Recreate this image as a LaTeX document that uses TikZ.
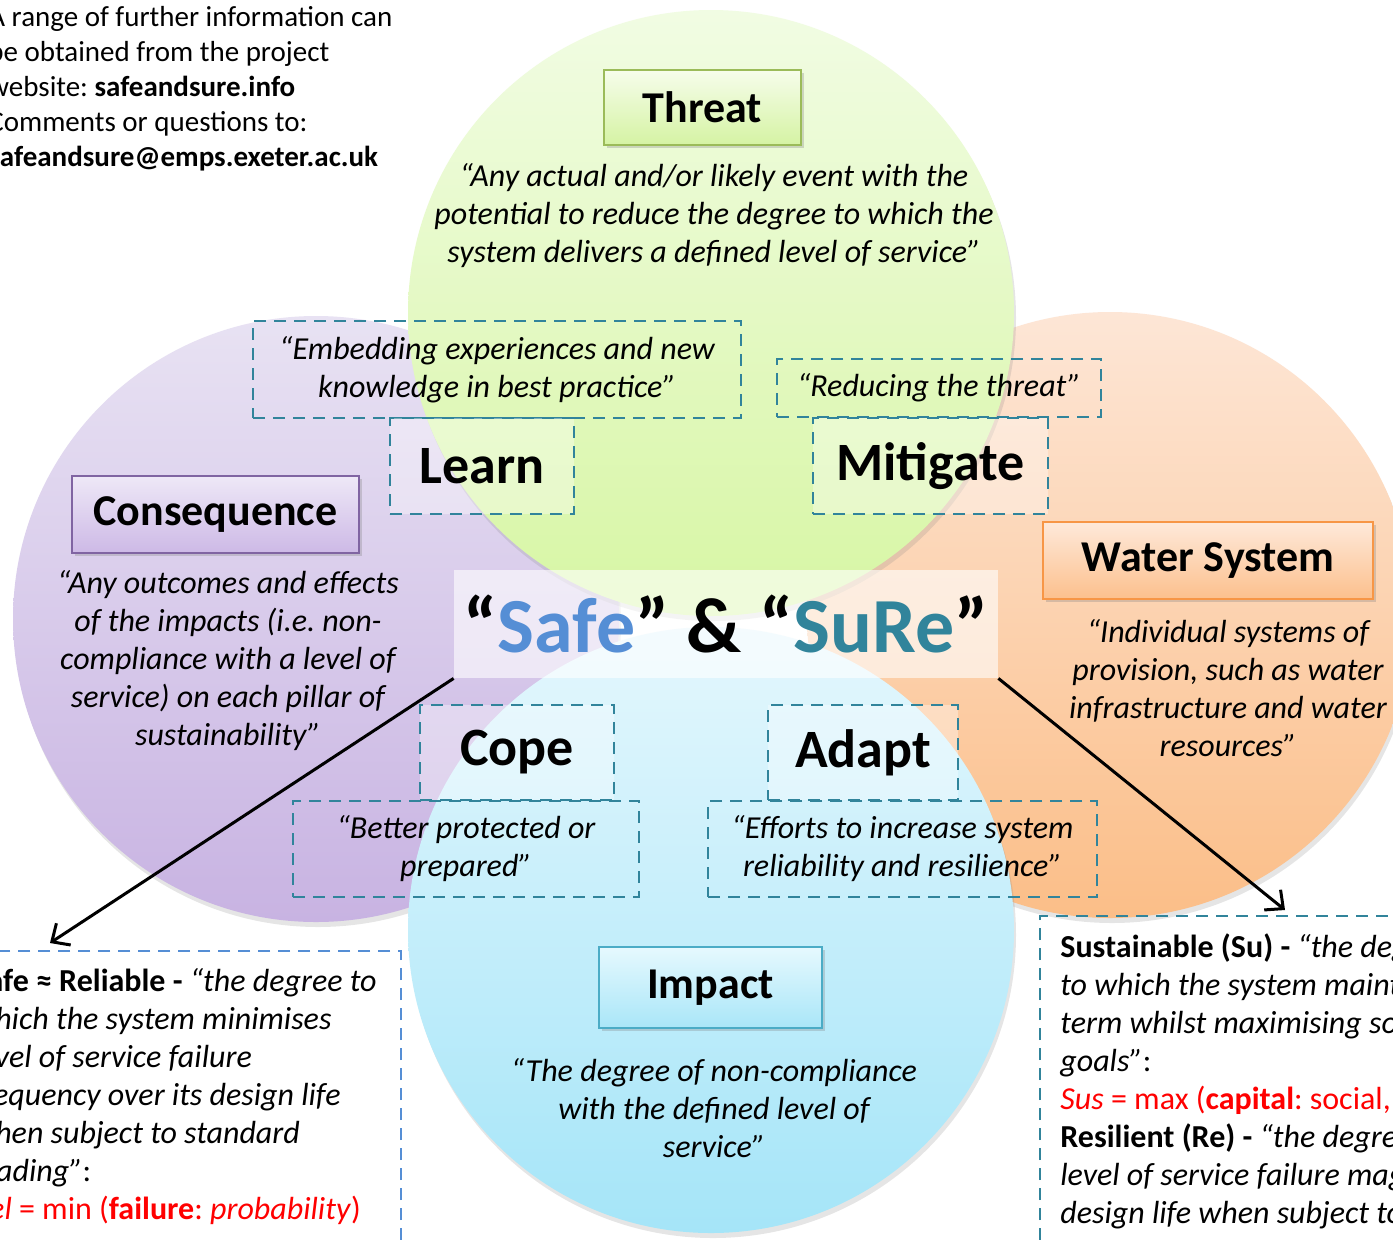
\documentclass[tikz,border=0pt]{standalone}
\usepackage{fontspec}
\setmainfont{Carlito}
\usepackage{xcolor}
\usepackage{tikz}
\usetikzlibrary{positioning, shadows, arrows.meta}
\frenchspacing

\definecolor{tealline}{HTML}{31849B}
\definecolor{blueline}{HTML}{558ED5}
\definecolor{safeblue}{HTML}{558ED5}
\definecolor{sureteal}{HTML}{31849B}
% circles
\definecolor{consTop}{HTML}{E8E2F3}
\definecolor{consBot}{HTML}{C8B3E2}
\definecolor{waterTop}{HTML}{FDE6D6}
\definecolor{waterBot}{HTML}{FBBE88}
\definecolor{threatTop}{HTML}{F1FCE3}
\definecolor{threatBot}{HTML}{D7F6A4}
\definecolor{impactTop}{HTML}{E4F7FD}
\definecolor{impactBot}{HTML}{A5E5F8}
% heading boxes
\definecolor{threatLine}{HTML}{9BBB59}
\definecolor{threatHTop}{HTML}{F6FDEB}
\definecolor{threatHBot}{HTML}{D5F3A3}
\definecolor{consLine}{HTML}{8064A2}
\definecolor{consHTop}{HTML}{EEE8F7}
\definecolor{consHBot}{HTML}{CDB9E6}
\definecolor{waterLine}{HTML}{F79646}
\definecolor{waterHTop}{HTML}{FEE9DA}
\definecolor{waterHBot}{HTML}{FCC08D}
\definecolor{impactLine}{HTML}{4BACC6}
\definecolor{impactHTop}{HTML}{E6F9FE}
\definecolor{impactHBot}{HTML}{A9E6F8}

\tikzset{
  ring/.style={circle, minimum size=303pt, inner sep=0pt,
    drop shadow={opacity=0.2, shadow xshift=1pt, shadow yshift=-2.5pt}},
  headbox/.style={draw, line width=1pt, inner sep=0pt,
    font=\bfseries\fontsize{22}{26}\selectfont,
    drop shadow={opacity=0.3, shadow xshift=1.5pt, shadow yshift=-1.5pt}},
  stagebox/.style={draw=tealline, line width=1pt, dash pattern=on 6pt off 4pt,
    fill=white, fill opacity=0.35, text opacity=1, inner sep=0pt,
    font=\bfseries\fontsize{27}{32}\selectfont},
  quotebox/.style={draw=tealline, line width=1pt, dash pattern=on 6pt off 4pt,
    inner sep=0pt, align=center, font=\itshape\fontsize{16}{19}\selectfont},
  quote/.style={align=center, font=\itshape\fontsize{16}{19}\selectfont},
  pointer/.style={line width=1.5pt, -{Straight Barb[length=7pt, width=13pt]}},
}

\begin{document}
\begin{tikzpicture}[x=0.5pt, y=-0.5pt]
        \useasboundingbox (0,0) rectangle (1393,1239);
        \clip (0,0) rectangle (1393,1239);
        \fill[white] (0,0) rectangle (1393,1239);

        % the four circles
        \node[ring, top color=consTop, bottom color=consBot] (consc) at (316,619) {};
        \node[ring, top color=waterTop, bottom color=waterBot] (waterc) at (1110,615) {};
        \node[ring, top color=threatTop, bottom color=threatBot] (threatc) at (711,313) {};
        \node[ring, top color=impactTop, bottom color=impactBot] (impactc) at (711,930) {};

        % headings
        \node[headbox, draw=threatLine, top color=threatHTop, bottom color=threatHBot,
              minimum width=98.5pt, minimum height=37.5pt] (threat) at (702.5,107.5) {Threat};
        \node[headbox, draw=consLine, top color=consHTop, bottom color=consHBot,
              minimum width=143.5pt, minimum height=38.5pt] (cons) at (215.5,514.5) {Consequence};
        \node[headbox, draw=waterLine, top color=waterHTop, bottom color=waterHBot,
              minimum width=165pt, minimum height=38.5pt] (water) at (1208,560.5) {Water System};
        \node[headbox, draw=impactLine, top color=impactHTop, bottom color=impactHBot,
              minimum width=111.5pt, minimum height=40.5pt] (impact) at (710.5,987.5) {Impact};

        % definitions
        \node[quote] (threatq) at (714,216) {“Any actual and/or likely event with the\\ potential to reduce the degree to which the\\ system delivers a defined level of service”};
        \node[quote] (consq) at (228,661) {“Any outcomes and effects\\ of the impacts (i.e. non-\\ compliance with a level of\\ service) on each pillar of\\ sustainability”};
        \node[quote] (waterq) at (1228,688) {“Individual systems of\\ provision, such as water\\ infrastructure and water\\ resources”};
        \node[quote] (impactq) at (714,1108) {“The degree of non-compliance\\ with the defined level of\\ service”};

        % stages
        \node[quotebox, minimum width=244pt, minimum height=48.5pt] (learnq) at (497,369.5) {“Embedding experiences and new\\ knowledge in best practice”};
        \node[stagebox, minimum width=92pt, minimum height=48pt] (learn) at (482,466) {Learn};
        \node[quotebox, minimum width=162pt, minimum height=29pt] (mitq) at (939,388) {“Reducing the threat”};
        \node[stagebox, minimum width=117.5pt, minimum height=48pt] (mit) at (930.5,466) {Mitigate};
        \node[stagebox, minimum width=97pt, minimum height=47.5pt] (cope) at (517,752.5) {Cope};
        \node[quotebox, minimum width=173pt, minimum height=48pt] (copeq) at (466,849) {“Better protected or\\ prepared”};
        \node[stagebox, minimum width=95pt, minimum height=47.5pt] (adapt) at (863,752.5) {Adapt};
        \node[quotebox, minimum width=194.5pt, minimum height=48pt] (adaptq) at (902.5,849) {“Efforts to increase system\\ reliability and resilience”};

        % title
        \node[fill=white, fill opacity=0.6, text opacity=1, inner sep=0pt, minimum width=272pt, minimum height=54pt,
              font=\bfseries\fontsize{39}{46}\selectfont] (title) at (726,624)
              {“\textcolor{safeblue}{Safe}” \& “\textcolor{sureteal}{SuRe}”};

        % notes
        \node[anchor=north west, inner sep=0pt, align=left, font=\fontsize{14.5}{17.5}\selectfont] (info) at (-12,6)
              {A range of further information can\\ be obtained from the project\\ website: \textbf{safeandsure.info}\\ Comments or questions to:\\ \textbf{safeandsure@emps.exeter.ac.uk}};

        \draw[blueline, line width=1pt, dash pattern=on 6pt off 4pt] (-10,951) rectangle (401,1260);
        \node[anchor=north west, inner sep=0pt, align=left, font=\fontsize{16}{19}\selectfont] (safetext) at (-28,968)
              {\textbf{Safe ≈ Reliable -} \textit{“the degree to}\\ \textit{which the system minimises}\\ \textit{level of service failure}\\ \textit{frequency over its design life}\\ \textit{when subject to standard}\\ \textit{loading”}:\\ \textcolor{red}{\textit{Rel} = min (\textbf{failure}: \textit{probability})}};

        \draw[tealline, line width=1pt, dash pattern=on 6pt off 4pt] (1040,1260) -- (1040,916) -- (1420,916);
        \node[anchor=north west, inner sep=0pt, align=left, font=\fontsize{16}{19}\selectfont] (suretext) at (1060,933)
              {\textbf{Sustainable (Su) -} \textit{“the degree}\\ \textit{to which the system maintains its level of service}\\ \textit{term whilst maximising social, economic and}\\ \textit{goals”}:\\ \textcolor{red}{\textit{Sus} = max (\textbf{capital}: social, environmental)}\\ \textbf{Resilient (Re) -} \textit{“the degree to which the}\\ \textit{level of service failure magnitude and}\\ \textit{design life when subject to exceptional}};

        % pointers
        \coordinate (safeend) at (50,943);
        \coordinate (sureend) at (1285,910);
        \draw[pointer] (title.south west) -- (safeend);
        \draw[pointer] (title.south east) -- (sureend);
    \end{tikzpicture}
\end{document}
